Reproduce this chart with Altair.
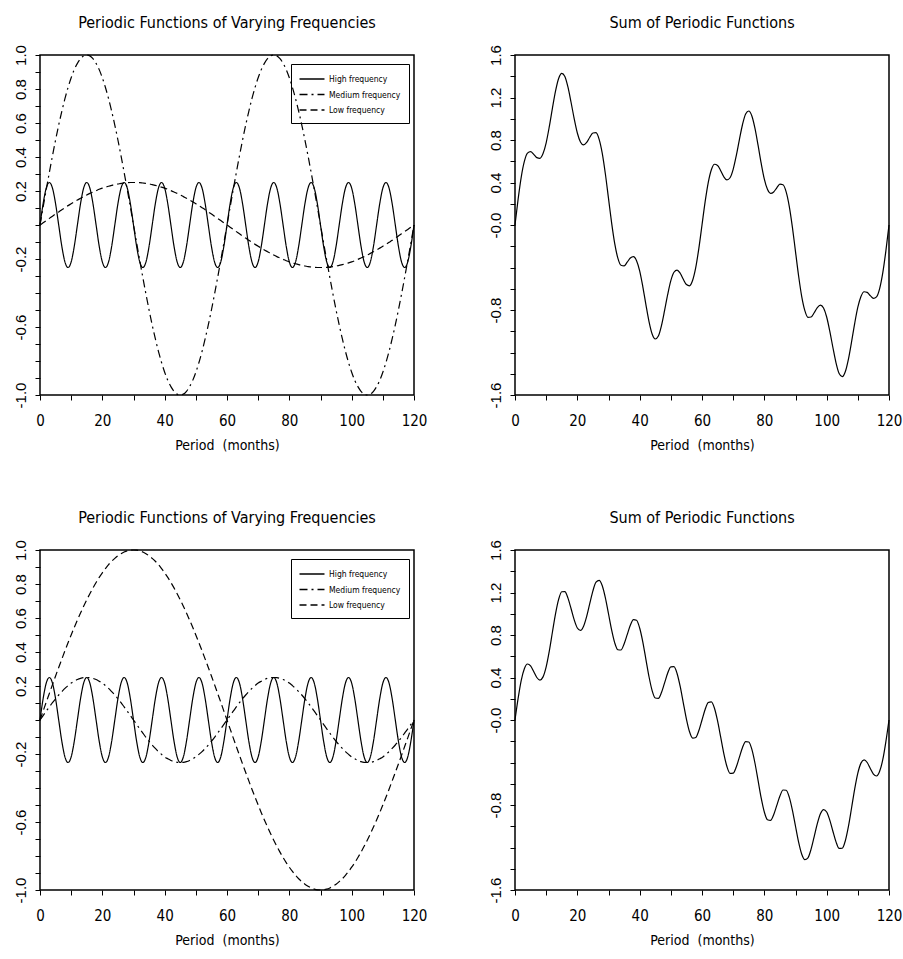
import altair as alt
import pandas as pd

# ---------------- data ----------------
months = list(range(0, 121))

series_names = ["High frequency", "Medium frequency", "Low frequency"]

# High frequency: identical in both rows (period 12, amplitude 0.25)
high_freq = [
    0.0, 0.125, 0.217, 0.25, 0.217, 0.125, 0.0, -0.125, -0.217, -0.25, -0.217, -0.125,
    0.0, 0.125, 0.217, 0.25, 0.217, 0.125, 0.0, -0.125, -0.217, -0.25, -0.217, -0.125,
    0.0, 0.125, 0.217, 0.25, 0.217, 0.125, 0.0, -0.125, -0.217, -0.25, -0.217, -0.125,
    0.0, 0.125, 0.217, 0.25, 0.217, 0.125, 0.0, -0.125, -0.217, -0.25, -0.217, -0.125,
    0.0, 0.125, 0.217, 0.25, 0.217, 0.125, 0.0, -0.125, -0.217, -0.25, -0.217, -0.125,
    0.0, 0.125, 0.217, 0.25, 0.217, 0.125, 0.0, -0.125, -0.217, -0.25, -0.217, -0.125,
    0.0, 0.125, 0.217, 0.25, 0.217, 0.125, 0.0, -0.125, -0.217, -0.25, -0.217, -0.125,
    0.0, 0.125, 0.217, 0.25, 0.217, 0.125, 0.0, -0.125, -0.217, -0.25, -0.217, -0.125,
    0.0, 0.125, 0.217, 0.25, 0.217, 0.125, 0.0, -0.125, -0.217, -0.25, -0.217, -0.125,
    0.0, 0.125, 0.217, 0.25, 0.217, 0.125, 0.0, -0.125, -0.217, -0.25, -0.217, -0.125,
    0.0,
]

# Top row medium frequency (period 60, amplitude 1)
medium_top = [
    0.0, 0.105, 0.208, 0.309, 0.407, 0.5, 0.588, 0.669, 0.743, 0.809, 0.866, 0.914, 0.951, 0.978, 0.995,
    1.0, 0.995, 0.978, 0.951, 0.914, 0.866, 0.809, 0.743, 0.669, 0.588, 0.5, 0.407, 0.309, 0.208, 0.105, 0.0,
    -0.105, -0.208, -0.309, -0.407, -0.5, -0.588, -0.669, -0.743, -0.809, -0.866, -0.914, -0.951, -0.978, -0.995,
    -1.0, -0.995, -0.978, -0.951, -0.914, -0.866, -0.809, -0.743, -0.669, -0.588, -0.5, -0.407, -0.309, -0.208, -0.105, 0.0,
    0.105, 0.208, 0.309, 0.407, 0.5, 0.588, 0.669, 0.743, 0.809, 0.866, 0.914, 0.951, 0.978, 0.995,
    1.0, 0.995, 0.978, 0.951, 0.914, 0.866, 0.809, 0.743, 0.669, 0.588, 0.5, 0.407, 0.309, 0.208, 0.105, 0.0,
    -0.105, -0.208, -0.309, -0.407, -0.5, -0.588, -0.669, -0.743, -0.809, -0.866, -0.914, -0.951, -0.978, -0.995,
    -1.0, -0.995, -0.978, -0.951, -0.914, -0.866, -0.809, -0.743, -0.669, -0.588, -0.5, -0.407, -0.309, -0.208, -0.105, 0.0,
]

# Top row low frequency (period 120, amplitude 0.25)
low_top = [
    0.0, 0.013, 0.026, 0.039, 0.052, 0.065, 0.077, 0.090, 0.102, 0.114, 0.125, 0.136, 0.147, 0.157, 0.167,
    0.177, 0.186, 0.194, 0.202, 0.210, 0.217, 0.223, 0.228, 0.233, 0.238, 0.241, 0.245, 0.247, 0.249, 0.250, 0.250,
    0.250, 0.249, 0.247, 0.245, 0.241, 0.238, 0.233, 0.228, 0.223, 0.217, 0.210, 0.202, 0.194, 0.186, 0.177,
    0.167, 0.157, 0.147, 0.136, 0.125, 0.114, 0.102, 0.090, 0.077, 0.065, 0.052, 0.039, 0.026, 0.013, 0.0,
    -0.013, -0.026, -0.039, -0.052, -0.065, -0.077, -0.090, -0.102, -0.114, -0.125, -0.136, -0.147, -0.157, -0.167,
    -0.177, -0.186, -0.194, -0.202, -0.210, -0.217, -0.223, -0.228, -0.233, -0.238, -0.241, -0.245, -0.247, -0.249, -0.250, -0.250,
    -0.250, -0.249, -0.247, -0.245, -0.241, -0.238, -0.233, -0.228, -0.223, -0.217, -0.210, -0.202, -0.194, -0.186, -0.177,
    -0.167, -0.157, -0.147, -0.136, -0.125, -0.114, -0.102, -0.090, -0.077, -0.065, -0.052, -0.039, -0.026, -0.013, 0.0,
]

# Bottom row medium frequency (period 60, amplitude 0.25)
medium_bottom = [
    0.0, 0.026, 0.052, 0.077, 0.102, 0.125, 0.147, 0.167, 0.186, 0.202, 0.217, 0.228, 0.238, 0.245, 0.249,
    0.25, 0.249, 0.245, 0.238, 0.228, 0.217, 0.202, 0.186, 0.167, 0.147, 0.125, 0.102, 0.077, 0.052, 0.026, 0.0,
    -0.026, -0.052, -0.077, -0.102, -0.125, -0.147, -0.167, -0.186, -0.202, -0.217, -0.228, -0.238, -0.245, -0.249,
    -0.25, -0.249, -0.245, -0.238, -0.228, -0.217, -0.202, -0.186, -0.167, -0.147, -0.125, -0.102, -0.077, -0.052, -0.026, 0.0,
    0.026, 0.052, 0.077, 0.102, 0.125, 0.147, 0.167, 0.186, 0.202, 0.217, 0.228, 0.238, 0.245, 0.249,
    0.25, 0.249, 0.245, 0.238, 0.228, 0.217, 0.202, 0.186, 0.167, 0.147, 0.125, 0.102, 0.077, 0.052, 0.026, 0.0,
    -0.026, -0.052, -0.077, -0.102, -0.125, -0.147, -0.167, -0.186, -0.202, -0.217, -0.228, -0.238, -0.245, -0.249,
    -0.25, -0.249, -0.245, -0.238, -0.228, -0.217, -0.202, -0.186, -0.167, -0.147, -0.125, -0.102, -0.077, -0.052, -0.026, 0.0,
]

# Bottom row low frequency (period 120, amplitude 1)
low_bottom = [
    0.0, 0.052, 0.105, 0.156, 0.208, 0.259, 0.309, 0.358, 0.407, 0.454, 0.5, 0.545, 0.588, 0.629, 0.669,
    0.707, 0.743, 0.777, 0.809, 0.839, 0.866, 0.891, 0.914, 0.934, 0.951, 0.966, 0.978, 0.988, 0.995, 0.999, 1.0,
    0.999, 0.995, 0.988, 0.978, 0.966, 0.951, 0.934, 0.914, 0.891, 0.866, 0.839, 0.809, 0.777, 0.743,
    0.707, 0.669, 0.629, 0.588, 0.545, 0.5, 0.454, 0.407, 0.358, 0.309, 0.259, 0.208, 0.156, 0.105, 0.052, 0.0,
    -0.052, -0.105, -0.156, -0.208, -0.259, -0.309, -0.358, -0.407, -0.454, -0.5, -0.545, -0.588, -0.629, -0.669,
    -0.707, -0.743, -0.777, -0.809, -0.839, -0.866, -0.891, -0.914, -0.934, -0.951, -0.966, -0.978, -0.988, -0.995, -0.999, -1.0,
    -0.999, -0.995, -0.988, -0.978, -0.966, -0.951, -0.934, -0.914, -0.891, -0.866, -0.839, -0.809, -0.777, -0.743,
    -0.707, -0.669, -0.629, -0.588, -0.545, -0.5, -0.454, -0.407, -0.358, -0.309, -0.259, -0.208, -0.156, -0.105, -0.052, 0.0,
]

x_ticks = [0, 10, 20, 30, 40, 50, 60, 70, 80, 90, 100, 110, 120]
left_ticks = [-1.0, -0.9, -0.8, -0.7, -0.6, -0.5, -0.4, -0.3, -0.2, -0.1, 0.0,
              0.1, 0.2, 0.3, 0.4, 0.5, 0.6, 0.7, 0.8, 0.9, 1.0]
left_labels = ["-1.0", "", "", "", "-0.6", "", "", "", "-0.2", "", "",
               "", "0.2", "", "0.4", "", "0.6", "", "0.8", "", "1.0"]
right_ticks = [-1.6, -1.4, -1.2, -1.0, -0.8, -0.6, -0.4, -0.2, 0.0,
               0.2, 0.4, 0.6, 0.8, 1.0, 1.2, 1.4, 1.6]
right_labels = ["-1.6", "", "", "", "-0.8", "", "", "", "-0.0",
                "", "0.4", "", "0.8", "", "1.2", "", "1.6"]

title_components = "Periodic Functions of Varying Frequencies"
title_sum = "Sum of Periodic Functions"
x_title = "Period\u00a0 (months)"


def long_df(h, m, l):
    rows = []
    for name, vals in zip(series_names, (h, m, l)):
        for t, v in zip(months, vals):
            rows.append({"month": t, "value": v, "series": name})
    return pd.DataFrame(rows)


top_df = long_df(high_freq, medium_top, low_top)
bottom_df = long_df(high_freq, medium_bottom, low_bottom)

# ---------------- styling ----------------
NARROW = "DejaVu Sans Condensed, Liberation Sans Narrow, sans-serif"
REG = "Liberation Sans, Arial, Helvetica, sans-serif"
W, H = 374, 340


def js_list(items):
    return "[" + ",".join("'" + s + "'" for s in items) + "]"


x_axis = alt.Axis(
    values=x_ticks,
    labelExpr="datum.value % 20 == 0 ? datum.label : ''",
    labelFont=NARROW, labelFontSize=15, labelPadding=13, labelFlush=False,
    labelOverlap=False, titleFont=NARROW, titleFontSize=14, titleFontWeight="normal",
    titlePadding=10,
)
left_axis = alt.Axis(
    values=left_ticks,
    labelExpr=js_list(left_labels) + "[round(datum.value*10)+10]",
    labelAngle=270, labelAlign="center", labelBaseline="bottom",
    labelFont=REG, labelFontSize=15, labelPadding=7, labelFlush=False, labelOverlap=False,
)
right_axis = alt.Axis(
    values=right_ticks,
    labelExpr=js_list(right_labels) + "[round(datum.value*5)+8]",
    labelAngle=270, labelAlign="center", labelBaseline="bottom",
    labelFont=REG, labelFontSize=15, labelPadding=7, labelFlush=False, labelOverlap=False,
)


def panel_title(text):
    return alt.TitleParams(text=text, font=NARROW, fontSize=16, fontWeight="normal",
                           color="black", anchor="middle", frame="group", offset=14)


def components_panel(df):
    return alt.Chart(df).mark_line(interpolate="monotone", strokeWidth=1.2, color="black").encode(
        x=alt.X("month:Q", scale=alt.Scale(domain=[0, 120], nice=False, zero=False),
                axis=x_axis, title=x_title),
        y=alt.Y("value:Q", scale=alt.Scale(domain=[-1, 1], nice=False, zero=False),
                axis=left_axis, title=None),
        strokeDash=alt.StrokeDash(
            "series:N",
            scale=alt.Scale(domain=series_names, range=[[1, 0], [8, 4, 2, 4], [7, 4]]),
            legend=alt.Legend(
                title=None, orient="none", legendX=251, legendY=9,
                symbolType="M-2,0H2", symbolSize=156, symbolStrokeWidth=1.3,
                symbolStrokeColor="black", symbolOffset=6,
                labelFont=NARROW, labelFontSize=8.5,
                labelColor="black", strokeColor="black", padding=8, rowPadding=3.5,
                labelOffset=10,
            ),
        ),
    ).properties(width=W, height=H, title=panel_title(title_components))


def sum_panel(df):
    return alt.Chart(df).mark_line(interpolate="monotone", strokeWidth=1.2, color="black").encode(
        x=alt.X("month:Q", scale=alt.Scale(domain=[0, 120], nice=False, zero=False),
                axis=x_axis, title=x_title),
        y=alt.Y("sum(value):Q", scale=alt.Scale(domain=[-1.6, 1.6], nice=False, zero=False),
                axis=right_axis, title=None),
    ).properties(width=W, height=H, title=panel_title(title_sum))


chart = alt.concat(
    components_panel(top_df), sum_panel(top_df),
    components_panel(bottom_df), sum_panel(bottom_df),
    columns=2,
    spacing=alt.RowColnumber(row=55, column=59),
).resolve_scale(
    x="independent", y="independent", strokeDash="independent"
).resolve_legend(
    strokeDash="independent"
).properties(
    padding={"left": 12, "top": 13, "right": 0, "bottom": 0},
    background="white",
).configure_view(
    stroke="black", strokeWidth=1.5, fill=None
).configure_axis(
    domain=False, grid=False, tickColor="black", tickSize=5, tickWidth=1,
    labelColor="black", titleColor="black",
)

chart.save("out.html", embed_options={"renderer": "svg", "actions": False})
